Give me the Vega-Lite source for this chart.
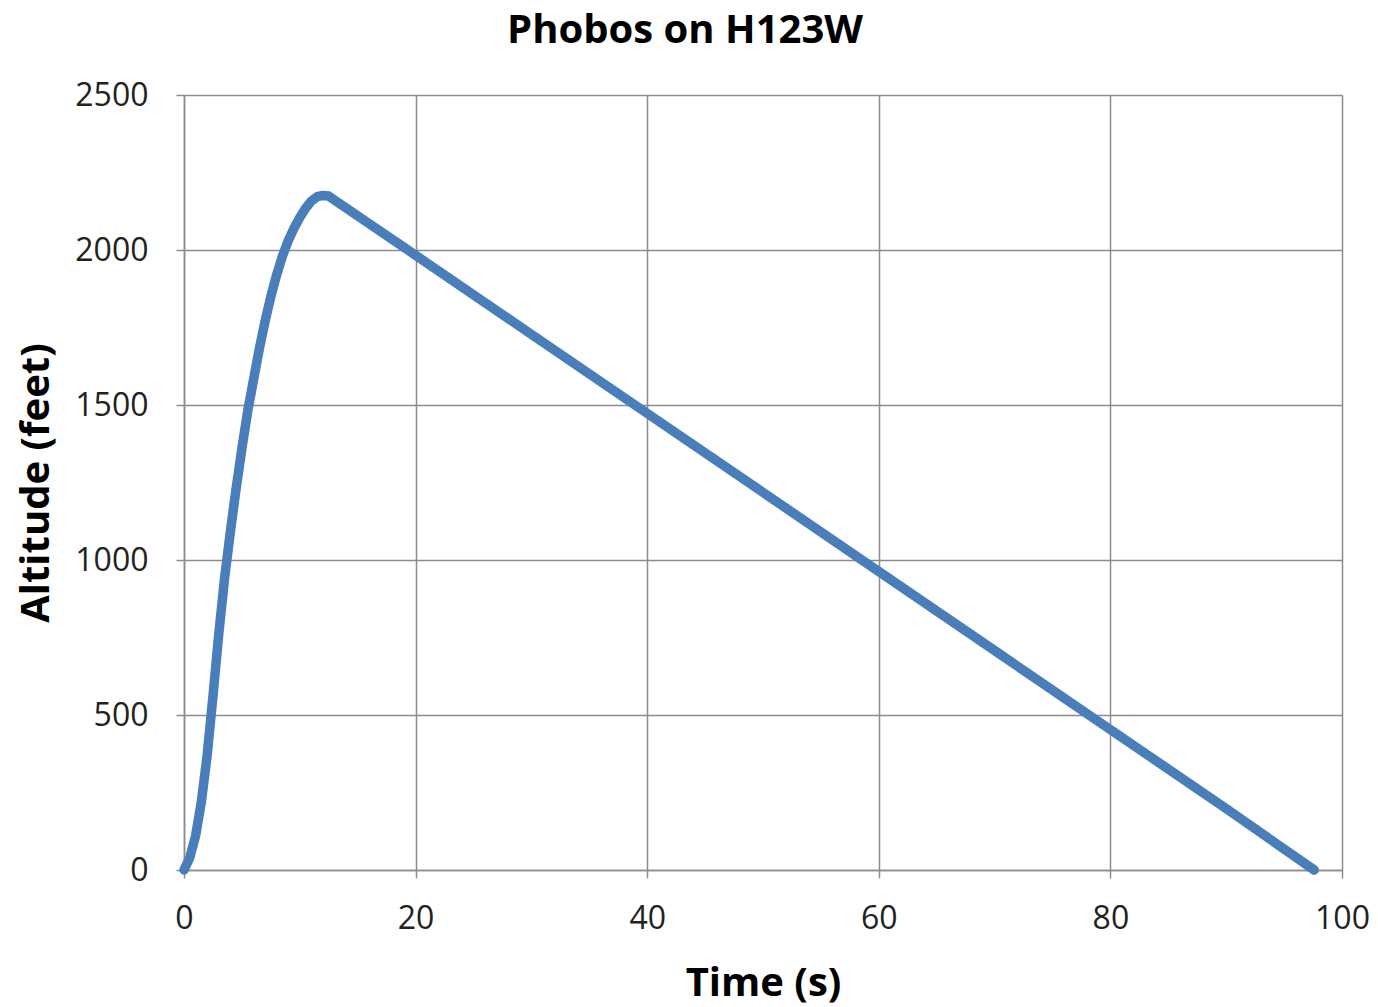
{
  "$schema": "https://vega.github.io/schema/vega-lite/v6.json",
  "width": 1158,
  "height": 775,
  "autosize": {"type": "none"},
  "padding": {"left": 184, "top": 95, "right": 36, "bottom": 137},
  "background": "white",
  "title": {
    "text": "Phobos on H123W",
    "font": "Open Sans",
    "fontSize": 40,
    "fontWeight": "bold",
    "color": "#000000",
    "anchor": "middle",
    "dx": -78,
    "offset": 28
  },
  "config": {
    "view": {"stroke": null},
    "axis": {
      "labelFont": "Open Sans",
      "labelFontSize": 32,
      "labelColor": "#222222",
      "titleFont": "Open Sans",
      "titleFontSize": 40,
      "titleFontWeight": "bold",
      "titleColor": "#000000",
      "gridColor": "#8c8c8c",
      "gridWidth": 1.5,
      "gridOpacity": 1,
      "domainColor": "#8c8c8c",
      "domainWidth": 1.5,
      "tickColor": "#8c8c8c",
      "tickWidth": 1.5,
      "tickSize": 8
    }
  },
  "data": {
    "values": [
      {"t": 0, "alt": 0},
      {"t": 0.5, "alt": 40},
      {"t": 1, "alt": 110},
      {"t": 1.5, "alt": 220},
      {"t": 2, "alt": 370},
      {"t": 2.5, "alt": 560},
      {"t": 3, "alt": 760},
      {"t": 3.5, "alt": 940},
      {"t": 4, "alt": 1090},
      {"t": 4.5, "alt": 1230},
      {"t": 5, "alt": 1360},
      {"t": 5.5, "alt": 1480},
      {"t": 6, "alt": 1580},
      {"t": 6.5, "alt": 1680},
      {"t": 7, "alt": 1770},
      {"t": 7.5, "alt": 1850},
      {"t": 8, "alt": 1920},
      {"t": 8.5, "alt": 1980},
      {"t": 9, "alt": 2030},
      {"t": 9.5, "alt": 2070},
      {"t": 10, "alt": 2105},
      {"t": 10.5, "alt": 2135},
      {"t": 11, "alt": 2158},
      {"t": 11.5, "alt": 2172},
      {"t": 12, "alt": 2176},
      {"t": 12.5, "alt": 2174},
      {"t": 13, "alt": 2161},
      {"t": 20, "alt": 1983},
      {"t": 30, "alt": 1728},
      {"t": 40, "alt": 1473},
      {"t": 50, "alt": 1218},
      {"t": 60, "alt": 963},
      {"t": 70, "alt": 708},
      {"t": 80, "alt": 453},
      {"t": 90, "alt": 198},
      {"t": 97.6, "alt": 0}
    ]
  },
  "mark": {"type": "line", "color": "#4a7ebb", "strokeWidth": 9.5, "strokeCap": "round", "strokeJoin": "round", "clip": false},
  "encoding": {
    "x": {
      "field": "t",
      "type": "quantitative",
      "title": "Time (s)",
      "scale": {"domain": [0, 100], "nice": false, "zero": true},
      "axis": {"values": [0, 20, 40, 60, 80, 100], "labelPadding": 25, "titlePadding": 29, "labelFlush": false}
    },
    "y": {
      "field": "alt",
      "type": "quantitative",
      "title": "Altitude (feet)",
      "scale": {"domain": [0, 2500], "nice": false},
      "axis": {"values": [0, 500, 1000, 1500, 2000, 2500], "format": "d", "labelPadding": 28, "titlePadding": 18, "labelFlush": false, "domain": true}
    }
  }
}
